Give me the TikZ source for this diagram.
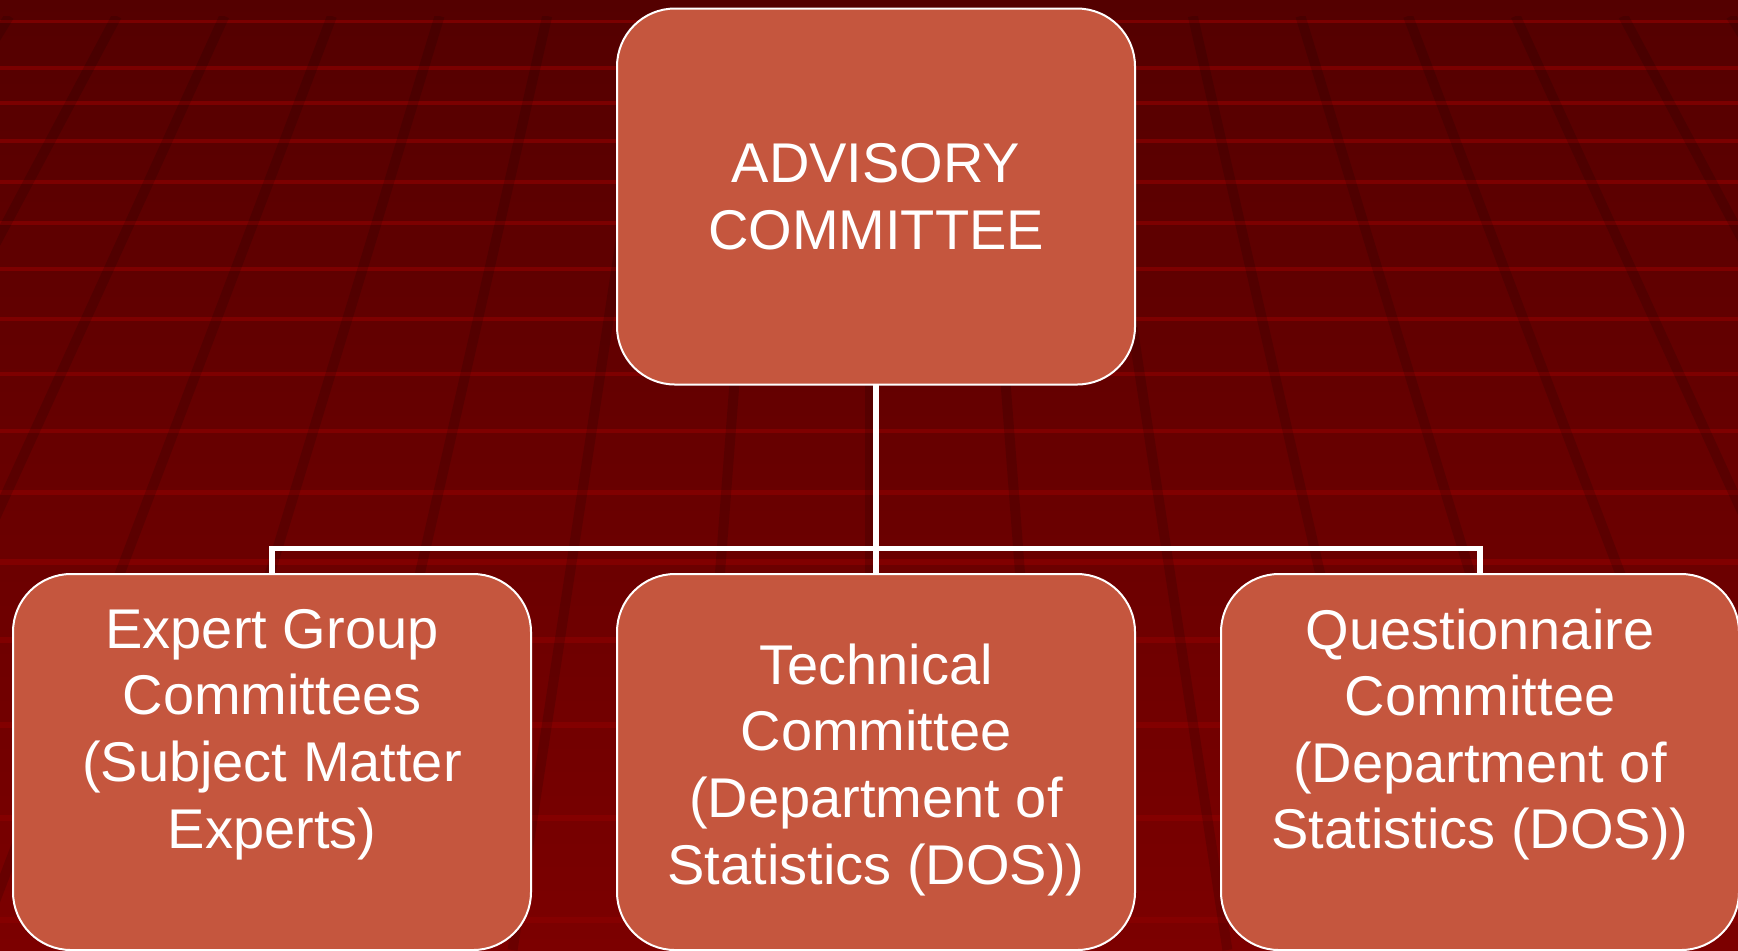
\documentclass[tikz,border=0pt]{standalone}
\usepackage{fontspec}
\setmainfont{Liberation Sans}
\usepackage{xcolor}
\usepackage{tikz}

\definecolor{boxfill}{RGB}{197,86,62}
\definecolor{bgtop}{RGB}{84,0,0}
\definecolor{bgbottom}{RGB}{124,0,0}
\definecolor{stripe}{RGB}{138,0,0}

\begin{document}
\begin{tikzpicture}[x=0.5pt,y=-0.5pt,
    committee/.style={rectangle,rounded corners=29pt,draw=white,line width=1pt,fill=boxfill,
        text=white,align=center,minimum width=259pt,minimum height=188pt,
        inner sep=0pt,outer sep=0pt,font=\fontsize{28}{33.3}\selectfont},
    level distance=282.75pt,
    level 1/.style={sibling distance=302pt},
    edge from parent/.style={draw=white,line width=2.8pt},
    edge from parent path={(\tikzparentnode.south) -- ++(0,-82pt) -| (\tikzchildnode.north)}]
    \useasboundingbox (0,0) rectangle (1738,950);
    % background: floor grid
    \shade[top color=bgtop,bottom color=bgbottom] (0,0) rectangle (1738,950);
    \foreach \y/\w in {21/1.5,68/1.6,103/1.7,141/1.8,182/1.9,223/2,269/2.1,319/2.2,374/2.3,
            431/2.4,492/2.5,562/2.6,640/2.7,725/2.8,818/2.9,920/3}
        \draw[stripe,opacity=.7,line width=\w pt] (0,\y) -- (1738,\y);
    \begin{scope}
        \clip (0,16) rectangle (1738,950);
        \foreach \k [evaluate=\k as \xa using 870+107.6*\k,
                     evaluate=\k as \xb using 870+178.7*\k] in {-9,...,9}
            \draw[black,opacity=.14,line width=5pt] (\xa,16) -- (\xb,950);
    \end{scope}
    % committees
    \node[committee] (advisory) at (876,196.5) {ADVISORY\\COMMITTEE}
        child{
            node[committee] (expert) {Expert Group\\Committees\\(Subject Matter\\Experts)\\~}
        }
        child{
            node[committee] (technical) {\rule{0pt}{28pt}Technical\\Committee\\(Department of\\Statistics (DOS))}
        }
        child{
            node[committee] (questionnaire) {Questionnaire\\Committee\\(Department of\\Statistics (DOS))\\~}
        };
\end{tikzpicture}
\end{document}
